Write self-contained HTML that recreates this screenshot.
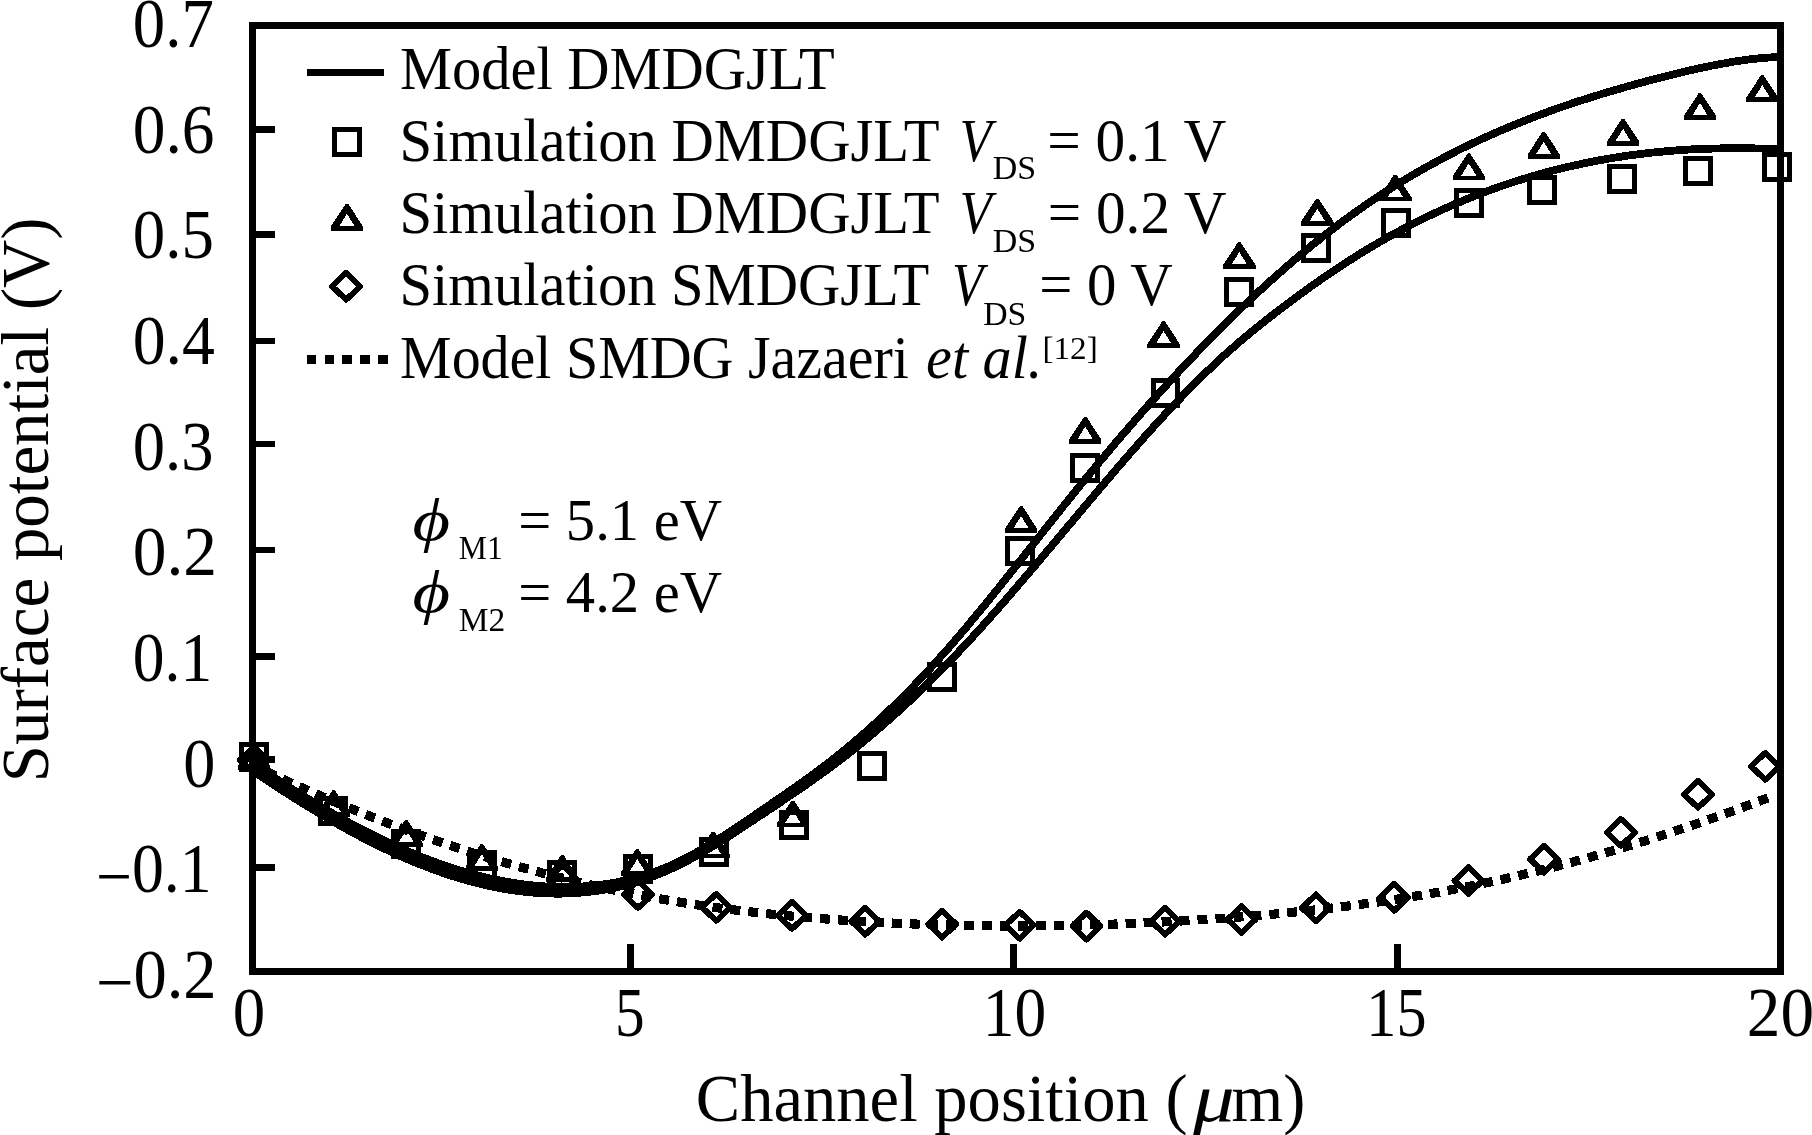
<!DOCTYPE html>
<html lang="en">
<head>
<meta charset="utf-8">
<title>Surface potential vs channel position</title>
<style>
html,body{margin:0;padding:0;background:#fff;}
body{width:1812px;height:1135px;overflow:hidden;}
svg{display:block;filter:grayscale(1);}
text{font-family:"Liberation Serif", "DejaVu Serif", serif;fill:#000;}
</style>
</head>
<body>
<svg width="1812" height="1135" viewBox="0 0 1812 1135">
<rect x="0" y="0" width="1812" height="1135" fill="#fff"/>
<g shape-rendering="crispEdges">
<rect x="252.6" y="25.5" width="1527.8" height="945.9" fill="none" stroke="#000" stroke-width="6.8"/>
<line x1="252.6" y1="129.6" x2="274.9" y2="129.6" stroke="#000" stroke-width="6.8"/>
<line x1="252.6" y1="234.3" x2="274.9" y2="234.3" stroke="#000" stroke-width="6.8"/>
<line x1="252.6" y1="341.0" x2="274.9" y2="341.0" stroke="#000" stroke-width="6.8"/>
<line x1="252.6" y1="444.0" x2="274.9" y2="444.0" stroke="#000" stroke-width="6.8"/>
<line x1="252.6" y1="550.0" x2="274.9" y2="550.0" stroke="#000" stroke-width="6.8"/>
<line x1="252.6" y1="656.1" x2="274.9" y2="656.1" stroke="#000" stroke-width="6.8"/>
<line x1="252.6" y1="759.8" x2="274.9" y2="759.8" stroke="#000" stroke-width="6.8"/>
<line x1="252.6" y1="867.2" x2="274.9" y2="867.2" stroke="#000" stroke-width="6.8"/>
<line x1="630.5" y1="944.0" x2="630.5" y2="971.4" stroke="#000" stroke-width="6.9"/>
<line x1="1013.4" y1="944.0" x2="1013.4" y2="971.4" stroke="#000" stroke-width="6.9"/>
<line x1="1397.5" y1="944.0" x2="1397.5" y2="971.4" stroke="#000" stroke-width="6.9"/>
<path d="M252.5 763.0 L256.3 765.6 L260.1 768.2 L264.0 770.7 L267.8 773.3 L271.6 775.8 L275.4 778.3 L279.3 780.8 L283.1 783.3 L286.9 785.7 L290.7 788.2 L294.5 790.6 L298.4 793.0 L302.2 795.3 L306.0 797.7 L309.8 800.0 L313.6 802.3 L317.5 804.6 L321.3 806.9 L325.1 809.1 L328.9 811.3 L332.8 813.5 L336.6 815.7 L340.4 817.9 L344.2 820.0 L348.0 822.1 L351.9 824.1 L355.7 826.2 L359.5 828.2 L363.3 830.2 L367.2 832.2 L371.0 834.1 L374.8 836.0 L378.6 837.9 L382.4 839.7 L386.3 841.6 L390.1 843.4 L393.9 845.1 L397.7 846.8 L401.6 848.6 L405.4 850.2 L409.2 851.9 L413.0 853.5 L416.8 855.0 L420.7 856.6 L424.5 858.1 L428.3 859.6 L432.1 861.0 L435.9 862.4 L439.8 863.8 L443.6 865.1 L447.4 866.4 L451.2 867.7 L455.1 868.9 L458.9 870.1 L462.7 871.3 L466.5 872.4 L470.3 873.5 L474.2 874.5 L478.0 875.5 L481.8 876.5 L485.6 877.4 L489.5 878.3 L493.3 879.1 L497.1 879.9 L500.9 880.7 L504.7 881.4 L508.6 882.1 L512.4 882.8 L516.2 883.4 L520.0 883.9 L523.8 884.4 L527.7 884.9 L531.5 885.3 L535.3 885.7 L539.1 886.0 L543.0 886.3 L546.8 886.5 L550.6 886.7 L554.4 886.9 L558.2 887.0 L562.1 887.0 L565.9 887.0 L569.7 887.0 L573.5 886.9 L577.4 886.8 L581.2 886.6 L585.0 886.3 L588.8 886.1 L592.6 885.7 L596.5 885.3 L600.3 884.9 L604.1 884.3 L607.9 883.8 L611.7 883.2 L615.6 882.5 L619.4 881.7 L623.2 880.9 L627.0 880.1 L630.9 879.1 L634.7 878.1 L638.5 877.1 L642.3 876.0 L646.1 874.8 L650.0 873.5 L653.8 872.2 L657.6 870.8 L661.4 869.3 L665.3 867.7 L669.1 866.1 L672.9 864.4 L676.7 862.6 L680.5 860.8 L684.4 858.8 L688.2 856.8 L692.0 854.8 L695.8 852.7 L699.7 850.5 L703.5 848.3 L707.3 846.0 L711.1 843.7 L714.9 841.3 L718.8 838.9 L722.6 836.5 L726.4 834.0 L730.2 831.5 L734.0 829.0 L737.9 826.4 L741.7 823.9 L745.5 821.3 L749.3 818.7 L753.2 816.1 L757.0 813.5 L760.8 810.9 L764.6 808.3 L768.4 805.7 L772.3 803.0 L776.1 800.4 L779.9 797.8 L783.7 795.2 L787.6 792.5 L791.4 789.8 L795.2 787.2 L799.0 784.5 L802.8 781.7 L806.7 779.0 L810.5 776.2 L814.3 773.4 L818.1 770.6 L821.9 767.7 L825.8 764.8 L829.6 761.9 L833.4 758.9 L837.2 755.9 L841.1 752.8 L844.9 749.7 L848.7 746.5 L852.5 743.3 L856.3 740.1 L860.2 736.8 L864.0 733.4 L867.8 730.1 L871.6 726.6 L875.5 723.2 L879.3 719.6 L883.1 716.1 L886.9 712.5 L890.7 708.8 L894.6 705.1 L898.4 701.3 L902.2 697.6 L906.0 693.7 L909.9 689.8 L913.7 685.9 L917.5 681.9 L921.3 677.9 L925.1 673.8 L929.0 669.7 L932.8 665.6 L936.6 661.4 L940.4 657.1 L944.2 652.8 L948.1 648.5 L951.9 644.1 L955.7 639.7 L959.5 635.2 L963.4 630.7 L967.2 626.2 L971.0 621.6 L974.8 617.0 L978.6 612.4 L982.5 607.8 L986.3 603.1 L990.1 598.4 L993.9 593.6 L997.8 588.9 L1001.6 584.1 L1005.4 579.3 L1009.2 574.5 L1013.0 569.7 L1016.9 564.9 L1020.7 560.1 L1024.5 555.3 L1028.3 550.4 L1032.1 545.6 L1036.0 540.7 L1039.8 535.9 L1043.6 531.1 L1047.4 526.2 L1051.3 521.4 L1055.1 516.6 L1058.9 511.8 L1062.7 507.0 L1066.5 502.3 L1070.4 497.5 L1074.2 492.8 L1078.0 488.1 L1081.8 483.4 L1085.7 478.7 L1089.5 474.1 L1093.3 469.5 L1097.1 464.9 L1100.9 460.3 L1104.8 455.7 L1108.6 451.2 L1112.4 446.6 L1116.2 442.1 L1120.0 437.7 L1123.9 433.2 L1127.7 428.8 L1131.5 424.3 L1135.3 420.0 L1139.2 415.6 L1143.0 411.2 L1146.8 406.9 L1150.6 402.6 L1154.4 398.4 L1158.3 394.1 L1162.1 389.9 L1165.9 385.7 L1169.7 381.5 L1173.6 377.4 L1177.4 373.2 L1181.2 369.1 L1185.0 365.0 L1188.8 361.0 L1192.7 357.0 L1196.5 353.0 L1200.3 349.0 L1204.1 345.1 L1208.0 341.1 L1211.8 337.2 L1215.6 333.4 L1219.4 329.5 L1223.2 325.7 L1227.1 321.9 L1230.9 318.2 L1234.7 314.4 L1238.5 310.7 L1242.3 307.1 L1246.2 303.4 L1250.0 299.8 L1253.8 296.2 L1257.6 292.7 L1261.5 289.1 L1265.3 285.6 L1269.1 282.2 L1272.9 278.7 L1276.7 275.3 L1280.6 272.0 L1284.4 268.6 L1288.2 265.3 L1292.0 262.0 L1295.9 258.7 L1299.7 255.5 L1303.5 252.3 L1307.3 249.2 L1311.1 246.0 L1315.0 242.9 L1318.8 239.9 L1322.6 236.8 L1326.4 233.9 L1330.2 230.9 L1334.1 228.0 L1337.9 225.1 L1341.7 222.2 L1345.5 219.4 L1349.4 216.6 L1353.2 213.8 L1357.0 211.1 L1360.8 208.4 L1364.6 205.7 L1368.5 203.1 L1372.3 200.5 L1376.1 197.9 L1379.9 195.4 L1383.8 192.9 L1387.6 190.4 L1391.4 188.0 L1395.2 185.6 L1399.0 183.2 L1402.9 180.9 L1406.7 178.6 L1410.5 176.3 L1414.3 174.1 L1418.2 171.8 L1422.0 169.7 L1425.8 167.5 L1429.6 165.4 L1433.4 163.3 L1437.3 161.2 L1441.1 159.1 L1444.9 157.1 L1448.7 155.1 L1452.5 153.2 L1456.4 151.2 L1460.2 149.3 L1464.0 147.4 L1467.8 145.6 L1471.7 143.7 L1475.5 141.9 L1479.3 140.1 L1483.1 138.4 L1486.9 136.6 L1490.8 134.9 L1494.6 133.2 L1498.4 131.5 L1502.2 129.9 L1506.1 128.3 L1509.9 126.7 L1513.7 125.1 L1517.5 123.5 L1521.3 122.0 L1525.2 120.5 L1529.0 119.0 L1532.8 117.5 L1536.6 116.0 L1540.4 114.6 L1544.3 113.2 L1548.1 111.8 L1551.9 110.4 L1555.7 109.0 L1559.6 107.7 L1563.4 106.4 L1567.2 105.1 L1571.0 103.8 L1574.8 102.5 L1578.7 101.2 L1582.5 100.0 L1586.3 98.8 L1590.1 97.6 L1594.0 96.4 L1597.8 95.2 L1601.6 94.0 L1605.4 92.9 L1609.2 91.7 L1613.1 90.6 L1616.9 89.5 L1620.7 88.4 L1624.5 87.3 L1628.3 86.2 L1632.2 85.2 L1636.0 84.1 L1639.8 83.1 L1643.6 82.0 L1647.5 81.0 L1651.3 80.0 L1655.1 79.0 L1658.9 78.0 L1662.7 77.0 L1666.6 76.1 L1670.4 75.1 L1674.2 74.2 L1678.0 73.2 L1681.9 72.3 L1685.7 71.4 L1689.5 70.5 L1693.3 69.6 L1697.1 68.8 L1701.0 67.9 L1704.8 67.1 L1708.6 66.3 L1712.4 65.5 L1716.3 64.8 L1720.1 64.1 L1723.9 63.4 L1727.7 62.7 L1731.5 62.0 L1735.4 61.4 L1739.2 60.9 L1743.0 60.3 L1746.8 59.8 L1750.6 59.3 L1754.5 58.9 L1758.3 58.4 L1762.1 58.1 L1765.9 57.7 L1769.8 57.5 L1773.6 57.2 L1777.4 57.0" fill="none" stroke="#000" stroke-width="7.8" stroke-linejoin="round"/>
<path d="M252.5 770.5 L256.3 773.1 L260.1 775.7 L264.0 778.3 L267.8 780.8 L271.6 783.4 L275.4 785.9 L279.3 788.4 L283.1 790.9 L286.9 793.3 L290.7 795.8 L294.5 798.2 L298.4 800.6 L302.2 803.0 L306.0 805.4 L309.8 807.7 L313.6 810.0 L317.5 812.3 L321.3 814.6 L325.1 816.9 L328.9 819.1 L332.8 821.3 L336.6 823.5 L340.4 825.7 L344.2 827.8 L348.0 829.9 L351.9 832.0 L355.7 834.1 L359.5 836.1 L363.3 838.1 L367.2 840.1 L371.0 842.0 L374.8 844.0 L378.6 845.8 L382.4 847.7 L386.3 849.5 L390.1 851.3 L393.9 853.1 L397.7 854.9 L401.6 856.6 L405.4 858.2 L409.2 859.9 L413.0 861.5 L416.8 863.1 L420.7 864.6 L424.5 866.1 L428.3 867.6 L432.1 869.0 L435.9 870.4 L439.8 871.8 L443.6 873.1 L447.4 874.4 L451.2 875.7 L455.1 876.9 L458.9 878.1 L462.7 879.2 L466.5 880.3 L470.3 881.4 L474.2 882.4 L478.0 883.3 L481.8 884.3 L485.6 885.2 L489.5 886.0 L493.3 886.8 L497.1 887.6 L500.9 888.3 L504.7 889.0 L508.6 889.6 L512.4 890.2 L516.2 890.8 L520.0 891.3 L523.8 891.7 L527.7 892.1 L531.5 892.5 L535.3 892.8 L539.1 893.0 L543.0 893.3 L546.8 893.4 L550.6 893.5 L554.4 893.6 L558.2 893.6 L562.1 893.6 L565.9 893.5 L569.7 893.3 L573.5 893.2 L577.4 892.9 L581.2 892.6 L585.0 892.3 L588.8 891.9 L592.6 891.4 L596.5 890.9 L600.3 890.3 L604.1 889.7 L607.9 889.0 L611.7 888.2 L615.6 887.4 L619.4 886.6 L623.2 885.7 L627.0 884.7 L630.9 883.6 L634.7 882.5 L638.5 881.4 L642.3 880.1 L646.1 878.9 L650.0 877.5 L653.8 876.1 L657.6 874.6 L661.4 873.1 L665.3 871.4 L669.1 869.8 L672.9 868.0 L676.7 866.2 L680.5 864.3 L684.4 862.4 L688.2 860.4 L692.0 858.3 L695.8 856.2 L699.7 854.1 L703.5 851.9 L707.3 849.6 L711.1 847.4 L714.9 845.0 L718.8 842.7 L722.6 840.3 L726.4 837.9 L730.2 835.4 L734.0 832.9 L737.9 830.5 L741.7 828.0 L745.5 825.4 L749.3 822.9 L753.2 820.4 L757.0 817.8 L760.8 815.3 L764.6 812.8 L768.4 810.2 L772.3 807.7 L776.1 805.1 L779.9 802.6 L783.7 800.0 L787.6 797.4 L791.4 794.9 L795.2 792.3 L799.0 789.6 L802.8 787.0 L806.7 784.4 L810.5 781.7 L814.3 779.0 L818.1 776.3 L821.9 773.5 L825.8 770.7 L829.6 767.9 L833.4 765.1 L837.2 762.2 L841.1 759.3 L844.9 756.4 L848.7 753.4 L852.5 750.4 L856.3 747.3 L860.2 744.2 L864.0 741.1 L867.8 737.9 L871.6 734.7 L875.5 731.5 L879.3 728.2 L883.1 724.9 L886.9 721.6 L890.7 718.2 L894.6 714.7 L898.4 711.3 L902.2 707.8 L906.0 704.3 L909.9 700.7 L913.7 697.1 L917.5 693.5 L921.3 689.8 L925.1 686.1 L929.0 682.3 L932.8 678.5 L936.6 674.7 L940.4 670.9 L944.2 667.0 L948.1 663.0 L951.9 659.1 L955.7 655.1 L959.5 651.0 L963.4 647.0 L967.2 642.9 L971.0 638.7 L974.8 634.5 L978.6 630.3 L982.5 626.1 L986.3 621.8 L990.1 617.6 L993.9 613.2 L997.8 608.9 L1001.6 604.5 L1005.4 600.2 L1009.2 595.8 L1013.0 591.3 L1016.9 586.9 L1020.7 582.4 L1024.5 578.0 L1028.3 573.5 L1032.1 569.0 L1036.0 564.5 L1039.8 559.9 L1043.6 555.4 L1047.4 550.9 L1051.3 546.3 L1055.1 541.8 L1058.9 537.2 L1062.7 532.7 L1066.5 528.1 L1070.4 523.6 L1074.2 519.0 L1078.0 514.5 L1081.8 509.9 L1085.7 505.4 L1089.5 500.8 L1093.3 496.3 L1097.1 491.8 L1100.9 487.3 L1104.8 482.8 L1108.6 478.3 L1112.4 473.8 L1116.2 469.4 L1120.0 464.9 L1123.9 460.5 L1127.7 456.1 L1131.5 451.7 L1135.3 447.4 L1139.2 443.0 L1143.0 438.7 L1146.8 434.4 L1150.6 430.2 L1154.4 426.0 L1158.3 421.8 L1162.1 417.6 L1165.9 413.5 L1169.7 409.4 L1173.6 405.3 L1177.4 401.3 L1181.2 397.3 L1185.0 393.3 L1188.8 389.4 L1192.7 385.6 L1196.5 381.7 L1200.3 377.9 L1204.1 374.2 L1208.0 370.5 L1211.8 366.9 L1215.6 363.3 L1219.4 359.7 L1223.2 356.2 L1227.1 352.8 L1230.9 349.4 L1234.7 346.1 L1238.5 342.8 L1242.3 339.5 L1246.2 336.3 L1250.0 333.1 L1253.8 330.0 L1257.6 326.9 L1261.5 323.8 L1265.3 320.8 L1269.1 317.8 L1272.9 314.8 L1276.7 311.8 L1280.6 308.9 L1284.4 306.0 L1288.2 303.2 L1292.0 300.3 L1295.9 297.5 L1299.7 294.7 L1303.5 291.9 L1307.3 289.2 L1311.1 286.4 L1315.0 283.7 L1318.8 281.0 L1322.6 278.4 L1326.4 275.7 L1330.2 273.1 L1334.1 270.5 L1337.9 268.0 L1341.7 265.5 L1345.5 263.0 L1349.4 260.5 L1353.2 258.1 L1357.0 255.6 L1360.8 253.3 L1364.6 250.9 L1368.5 248.6 L1372.3 246.3 L1376.1 244.1 L1379.9 241.8 L1383.8 239.6 L1387.6 237.5 L1391.4 235.3 L1395.2 233.2 L1399.0 231.2 L1402.9 229.1 L1406.7 227.1 L1410.5 225.1 L1414.3 223.1 L1418.2 221.2 L1422.0 219.3 L1425.8 217.4 L1429.6 215.6 L1433.4 213.8 L1437.3 212.0 L1441.1 210.2 L1444.9 208.5 L1448.7 206.8 L1452.5 205.1 L1456.4 203.5 L1460.2 201.9 L1464.0 200.3 L1467.8 198.7 L1471.7 197.2 L1475.5 195.6 L1479.3 194.2 L1483.1 192.7 L1486.9 191.3 L1490.8 189.9 L1494.6 188.5 L1498.4 187.1 L1502.2 185.8 L1506.1 184.5 L1509.9 183.2 L1513.7 182.0 L1517.5 180.7 L1521.3 179.5 L1525.2 178.4 L1529.0 177.2 L1532.8 176.1 L1536.6 175.0 L1540.4 173.9 L1544.3 172.9 L1548.1 171.8 L1551.9 170.8 L1555.7 169.8 L1559.6 168.9 L1563.4 168.0 L1567.2 167.0 L1571.0 166.2 L1574.8 165.3 L1578.7 164.5 L1582.5 163.6 L1586.3 162.8 L1590.1 162.1 L1594.0 161.3 L1597.8 160.6 L1601.6 159.9 L1605.4 159.2 L1609.2 158.6 L1613.1 157.9 L1616.9 157.3 L1620.7 156.7 L1624.5 156.1 L1628.3 155.6 L1632.2 155.1 L1636.0 154.5 L1639.8 154.1 L1643.6 153.6 L1647.5 153.1 L1651.3 152.7 L1655.1 152.3 L1658.9 151.9 L1662.7 151.6 L1666.6 151.2 L1670.4 150.9 L1674.2 150.6 L1678.0 150.3 L1681.9 150.0 L1685.7 149.8 L1689.5 149.5 L1693.3 149.3 L1697.1 149.1 L1701.0 149.0 L1704.8 148.8 L1708.6 148.7 L1712.4 148.6 L1716.3 148.5 L1720.1 148.4 L1723.9 148.3 L1727.7 148.3 L1731.5 148.2 L1735.4 148.2 L1739.2 148.2 L1743.0 148.3 L1746.8 148.3 L1750.6 148.3 L1754.5 148.4 L1758.3 148.5 L1762.1 148.6 L1765.9 148.7 L1769.8 148.9 L1773.6 149.0 L1777.4 149.2" fill="none" stroke="#000" stroke-width="7.8" stroke-linejoin="round"/>
<path d="M1768.0 797.8 L1764.2 799.3 L1760.4 800.7 L1756.6 802.1 L1752.8 803.6 L1749.0 805.0 L1745.2 806.4 L1741.4 807.8 L1737.6 809.2 L1733.8 810.6 L1730.0 812.0 L1726.2 813.3 L1722.4 814.7 L1718.6 816.1 L1714.8 817.4 L1711.0 818.8 L1707.2 820.1 L1703.4 821.4 L1699.6 822.7 L1695.8 824.1 L1692.0 825.4 L1688.2 826.7 L1684.4 827.9 L1680.6 829.2 L1676.8 830.5 L1673.0 831.8 L1669.2 833.0 L1665.4 834.3 L1661.6 835.5 L1657.9 836.7 L1654.1 837.9 L1650.3 839.2 L1646.5 840.4 L1642.7 841.6 L1638.9 842.7 L1635.1 843.9 L1631.3 845.1 L1627.5 846.2 L1623.7 847.4 L1619.9 848.5 L1616.1 849.7 L1612.3 850.8 L1608.5 851.9 L1604.7 853.0 L1600.9 854.1 L1597.1 855.2 L1593.3 856.3 L1589.5 857.4 L1585.7 858.4 L1581.9 859.5 L1578.1 860.5 L1574.3 861.6 L1570.5 862.6 L1566.7 863.6 L1562.9 864.6 L1559.1 865.6 L1555.3 866.6 L1551.5 867.6 L1547.7 868.5 L1543.9 869.5 L1540.1 870.4 L1536.3 871.4 L1532.5 872.3 L1528.7 873.2 L1524.9 874.1 L1521.1 875.0 L1517.3 875.9 L1513.5 876.8 L1509.7 877.7 L1505.9 878.5 L1502.1 879.4 L1498.3 880.2 L1494.5 881.1 L1490.7 881.9 L1486.9 882.7 L1483.1 883.5 L1479.3 884.3 L1475.5 885.1 L1471.7 885.8 L1467.9 886.6 L1464.1 887.4 L1460.3 888.1 L1456.5 888.8 L1452.7 889.6 L1448.9 890.3 L1445.1 891.0 L1441.4 891.7 L1437.6 892.4 L1433.8 893.0 L1430.0 893.7 L1426.2 894.4 L1422.4 895.0 L1418.6 895.6 L1414.8 896.3 L1411.0 896.9 L1407.2 897.5 L1403.4 898.1 L1399.6 898.7 L1395.8 899.3 L1392.0 899.9 L1388.2 900.5 L1384.4 901.0 L1380.6 901.6 L1376.8 902.1 L1373.0 902.7 L1369.2 903.2 L1365.4 903.7 L1361.6 904.2 L1357.8 904.7 L1354.0 905.2 L1350.2 905.7 L1346.4 906.2 L1342.6 906.7 L1338.8 907.2 L1335.0 907.6 L1331.2 908.1 L1327.4 908.5 L1323.6 909.0 L1319.8 909.4 L1316.0 909.8 L1312.2 910.2 L1308.4 910.7 L1304.6 911.1 L1300.8 911.5 L1297.0 911.8 L1293.2 912.2 L1289.4 912.6 L1285.6 913.0 L1281.8 913.4 L1278.0 913.7 L1274.2 914.1 L1270.4 914.4 L1266.6 914.8 L1262.8 915.1 L1259.0 915.4 L1255.2 915.7 L1251.4 916.1 L1247.6 916.4 L1243.8 916.7 L1240.0 917.0 L1236.2 917.3 L1232.4 917.6 L1228.6 917.8 L1224.9 918.1 L1221.1 918.4 L1217.3 918.7 L1213.5 918.9 L1209.7 919.2 L1205.9 919.4 L1202.1 919.7 L1198.3 919.9 L1194.5 920.2 L1190.7 920.4 L1186.9 920.6 L1183.1 920.8 L1179.3 921.1 L1175.5 921.3 L1171.7 921.5 L1167.9 921.7 L1164.1 921.9 L1160.3 922.1 L1156.5 922.3 L1152.7 922.5 L1148.9 922.6 L1145.1 922.8 L1141.3 923.0 L1137.5 923.2 L1133.7 923.3 L1129.9 923.5 L1126.1 923.6 L1122.3 923.8 L1118.5 923.9 L1114.7 924.1 L1110.9 924.2 L1107.1 924.3 L1103.3 924.5 L1099.5 924.6 L1095.7 924.7 L1091.9 924.8 L1088.1 924.9 L1084.3 925.0 L1080.5 925.1 L1076.7 925.2 L1072.9 925.3 L1069.1 925.4 L1065.3 925.4 L1061.5 925.5 L1057.7 925.6 L1053.9 925.6 L1050.1 925.7 L1046.3 925.7 L1042.5 925.8 L1038.7 925.8 L1034.9 925.8 L1031.1 925.9 L1027.3 925.9 L1023.5 925.9 L1019.7 925.9 L1015.9 925.9 L1012.1 925.9 L1008.4 925.9 L1004.6 925.9 L1000.8 925.9 L997.0 925.9 L993.2 925.8 L989.4 925.8 L985.6 925.8 L981.8 925.7 L978.0 925.7 L974.2 925.6 L970.4 925.6 L966.6 925.5 L962.8 925.4 L959.0 925.4 L955.2 925.3 L951.4 925.2 L947.6 925.1 L943.8 925.0 L940.0 924.9 L936.2 924.8 L932.4 924.7 L928.6 924.5 L924.8 924.4 L921.0 924.3 L917.2 924.1 L913.4 924.0 L909.6 923.8 L905.8 923.7 L902.0 923.5 L898.2 923.4 L894.4 923.2 L890.6 923.0 L886.8 922.8 L883.0 922.6 L879.2 922.4 L875.4 922.2 L871.6 922.0 L867.8 921.8 L864.0 921.6 L860.2 921.3 L856.4 921.1 L852.6 920.9 L848.8 920.6 L845.0 920.4 L841.2 920.1 L837.4 919.8 L833.6 919.6 L829.8 919.3 L826.0 919.0 L822.2 918.7 L818.4 918.4 L814.6 918.1 L810.8 917.8 L807.0 917.5 L803.2 917.2 L799.4 916.8 L795.6 916.5 L791.9 916.1 L788.1 915.8 L784.3 915.4 L780.5 915.1 L776.7 914.7 L772.9 914.3 L769.1 913.9 L765.3 913.5 L761.5 913.1 L757.7 912.7 L753.9 912.3 L750.1 911.8 L746.3 911.4 L742.5 911.0 L738.7 910.5 L734.9 910.0 L731.1 909.6 L727.3 909.1 L723.5 908.6 L719.7 908.1 L715.9 907.6 L712.1 907.0 L708.3 906.5 L704.5 906.0 L700.7 905.4 L696.9 904.9 L693.1 904.3 L689.3 903.7 L685.5 903.1 L681.7 902.5 L677.9 901.9 L674.1 901.3 L670.3 900.6 L666.5 900.0 L662.7 899.3 L658.9 898.7 L655.1 898.0 L651.3 897.3 L647.5 896.6 L643.7 895.9 L639.9 895.2 L636.1 894.5 L632.3 893.7 L628.5 893.0 L624.7 892.2 L620.9 891.4 L617.1 890.7 L613.3 889.9 L609.5 889.1 L605.7 888.2 L601.9 887.4 L598.1 886.6 L594.3 885.7 L590.5 884.9 L586.7 884.0 L582.9 883.1 L579.1 882.2 L575.4 881.3 L571.6 880.4 L567.8 879.5 L564.0 878.6 L560.2 877.6 L556.4 876.6 L552.6 875.7 L548.8 874.7 L545.0 873.7 L541.2 872.7 L537.4 871.7 L533.6 870.7 L529.8 869.6 L526.0 868.6 L522.2 867.5 L518.4 866.5 L514.6 865.4 L510.8 864.3 L507.0 863.2 L503.2 862.1 L499.4 861.0 L495.6 859.8 L491.8 858.7 L488.0 857.5 L484.2 856.4 L480.4 855.2 L476.6 854.0 L472.8 852.8 L469.0 851.6 L465.2 850.4 L461.4 849.1 L457.6 847.9 L453.8 846.6 L450.0 845.4 L446.2 844.1 L442.4 842.8 L438.6 841.5 L434.8 840.2 L431.0 838.9 L427.2 837.6 L423.4 836.2 L419.6 834.9 L415.8 833.5 L412.0 832.1 L408.2 830.7 L404.4 829.4 L400.6 827.9 L396.8 826.5 L393.0 825.1 L389.2 823.7 L385.4 822.2 L381.6 820.8 L377.8 819.3 L374.0 817.8 L370.2 816.3 L366.4 814.8 L362.6 813.3 L358.9 811.8 L355.1 810.3 L351.3 808.7 L347.5 807.2 L343.7 805.6 L339.9 804.0 L336.1 802.5 L332.3 800.9 L328.5 799.3 L324.7 797.7 L320.9 796.0 L317.1 794.4 L313.3 792.7 L309.5 791.1 L305.7 789.4 L301.9 787.7 L298.1 786.1 L294.3 784.4 L290.5 782.7 L286.7 780.9 L282.9 779.2 L279.1 777.5 L275.3 775.7 L271.5 774.0 L267.7 772.2 L263.9 770.4 L260.1 768.6 L256.3 766.8 L252.5 765.0" fill="none" stroke="#000" stroke-width="9.2" stroke-dasharray="10 8" stroke-linejoin="round"/>
<rect x="241.7" y="744.5" width="24.9" height="24.9" fill="none" stroke="#000" stroke-width="5.0"/>
<rect x="320.8" y="798.3" width="24.9" height="24.9" fill="none" stroke="#000" stroke-width="5.0"/>
<rect x="393.7" y="831.2" width="24.9" height="24.9" fill="none" stroke="#000" stroke-width="5.0"/>
<rect x="469.4" y="852.9" width="24.9" height="24.9" fill="none" stroke="#000" stroke-width="5.0"/>
<rect x="549.6" y="862.5" width="24.9" height="24.9" fill="none" stroke="#000" stroke-width="5.0"/>
<rect x="625.4" y="856.3" width="24.9" height="24.9" fill="none" stroke="#000" stroke-width="5.0"/>
<rect x="701.6" y="839.4" width="24.9" height="24.9" fill="none" stroke="#000" stroke-width="5.0"/>
<rect x="781.4" y="812.5" width="24.9" height="24.9" fill="none" stroke="#000" stroke-width="5.0"/>
<rect x="859.6" y="753.3" width="24.9" height="24.9" fill="none" stroke="#000" stroke-width="5.0"/>
<rect x="929.1" y="664.1" width="24.9" height="24.9" fill="none" stroke="#000" stroke-width="5.0"/>
<rect x="1007.6" y="538.3" width="24.9" height="24.9" fill="none" stroke="#000" stroke-width="5.0"/>
<rect x="1072.8" y="455.4" width="24.9" height="24.9" fill="none" stroke="#000" stroke-width="5.0"/>
<rect x="1153.0" y="380.9" width="24.9" height="24.9" fill="none" stroke="#000" stroke-width="5.0"/>
<rect x="1226.6" y="279.4" width="24.9" height="24.9" fill="none" stroke="#000" stroke-width="5.0"/>
<rect x="1303.5" y="235.2" width="24.9" height="24.9" fill="none" stroke="#000" stroke-width="5.0"/>
<rect x="1383.6" y="210.5" width="24.9" height="24.9" fill="none" stroke="#000" stroke-width="5.0"/>
<rect x="1456.3" y="190.4" width="24.9" height="24.9" fill="none" stroke="#000" stroke-width="5.0"/>
<rect x="1529.6" y="177.7" width="24.9" height="24.9" fill="none" stroke="#000" stroke-width="5.0"/>
<rect x="1609.6" y="166.5" width="24.9" height="24.9" fill="none" stroke="#000" stroke-width="5.0"/>
<rect x="1685.5" y="158.6" width="24.9" height="24.9" fill="none" stroke="#000" stroke-width="5.0"/>
<rect x="1764.5" y="154.7" width="24.9" height="24.9" fill="none" stroke="#000" stroke-width="5.0"/>
<path d="M237.80 769.95 L237.80 765.90 L252.80 743.05 L255.20 743.05 L270.20 765.90 L270.20 769.95 Z M254.00 753.00 L261.50 765.20 L246.50 765.20 Z" fill="#000" fill-rule="evenodd" stroke="none"/>
<path d="M317.40 817.15 L317.40 813.10 L332.40 790.25 L334.80 790.25 L349.80 813.10 L349.80 817.15 Z M333.60 800.20 L341.10 812.40 L326.10 812.40 Z" fill="#000" fill-rule="evenodd" stroke="none"/>
<path d="M390.10 846.95 L390.10 842.90 L405.10 820.05 L407.50 820.05 L422.50 842.90 L422.50 846.95 Z M406.30 830.00 L413.80 842.20 L398.80 842.20 Z" fill="#000" fill-rule="evenodd" stroke="none"/>
<path d="M465.60 870.95 L465.60 866.90 L480.60 844.05 L483.00 844.05 L498.00 866.90 L498.00 870.95 Z M481.80 854.00 L489.30 866.20 L474.30 866.20 Z" fill="#000" fill-rule="evenodd" stroke="none"/>
<path d="M546.10 881.85 L546.10 877.80 L561.10 854.95 L563.50 854.95 L578.50 877.80 L578.50 881.85 Z M562.30 864.90 L569.80 877.10 L554.80 877.10 Z" fill="#000" fill-rule="evenodd" stroke="none"/>
<path d="M621.10 875.95 L621.10 871.90 L636.10 849.05 L638.50 849.05 L653.50 871.90 L653.50 875.95 Z M637.30 859.00 L644.80 871.20 L629.80 871.20 Z" fill="#000" fill-rule="evenodd" stroke="none"/>
<path d="M697.10 858.45 L697.10 854.40 L712.10 831.55 L714.50 831.55 L729.50 854.40 L729.50 858.45 Z M713.30 841.50 L720.80 853.70 L705.80 853.70 Z" fill="#000" fill-rule="evenodd" stroke="none"/>
<path d="M776.70 827.45 L776.70 823.40 L791.70 800.55 L794.10 800.55 L809.10 823.40 L809.10 827.45 Z M792.90 810.50 L800.40 822.70 L785.40 822.70 Z" fill="#000" fill-rule="evenodd" stroke="none"/>
<path d="M1004.90 532.95 L1004.90 528.90 L1019.90 506.05 L1022.30 506.05 L1037.30 528.90 L1037.30 532.95 Z M1021.10 516.00 L1028.60 528.20 L1013.60 528.20 Z" fill="#000" fill-rule="evenodd" stroke="none"/>
<path d="M1069.00 443.65 L1069.00 439.60 L1084.00 416.75 L1086.40 416.75 L1101.40 439.60 L1101.40 443.65 Z M1085.20 426.70 L1092.70 438.90 L1077.70 438.90 Z" fill="#000" fill-rule="evenodd" stroke="none"/>
<path d="M1147.40 348.05 L1147.40 344.00 L1162.40 321.15 L1164.80 321.15 L1179.80 344.00 L1179.80 348.05 Z M1163.60 331.10 L1171.10 343.30 L1156.10 343.30 Z" fill="#000" fill-rule="evenodd" stroke="none"/>
<path d="M1223.10 268.95 L1223.10 264.90 L1238.10 242.05 L1240.50 242.05 L1255.50 264.90 L1255.50 268.95 Z M1239.30 252.00 L1246.80 264.20 L1231.80 264.20 Z" fill="#000" fill-rule="evenodd" stroke="none"/>
<path d="M1301.10 225.55 L1301.10 221.50 L1316.10 198.65 L1318.50 198.65 L1333.50 221.50 L1333.50 225.55 Z M1317.30 208.60 L1324.80 220.80 L1309.80 220.80 Z" fill="#000" fill-rule="evenodd" stroke="none"/>
<path d="M1379.10 201.45 L1379.10 197.40 L1394.10 174.55 L1396.50 174.55 L1411.50 197.40 L1411.50 201.45 Z M1395.30 184.50 L1402.80 196.70 L1387.80 196.70 Z" fill="#000" fill-rule="evenodd" stroke="none"/>
<path d="M1452.60 180.35 L1452.60 176.30 L1467.60 153.45 L1470.00 153.45 L1485.00 176.30 L1485.00 180.35 Z M1468.80 163.40 L1476.30 175.60 L1461.30 175.60 Z" fill="#000" fill-rule="evenodd" stroke="none"/>
<path d="M1527.50 158.75 L1527.50 154.70 L1542.50 131.85 L1544.90 131.85 L1559.90 154.70 L1559.90 158.75 Z M1543.70 141.80 L1551.20 154.00 L1536.20 154.00 Z" fill="#000" fill-rule="evenodd" stroke="none"/>
<path d="M1606.90 145.65 L1606.90 141.60 L1621.90 118.75 L1624.30 118.75 L1639.30 141.60 L1639.30 145.65 Z M1623.10 128.70 L1630.60 140.90 L1615.60 140.90 Z" fill="#000" fill-rule="evenodd" stroke="none"/>
<path d="M1683.80 119.95 L1683.80 115.90 L1698.80 93.05 L1701.20 93.05 L1716.20 115.90 L1716.20 119.95 Z M1700.00 103.00 L1707.50 115.20 L1692.50 115.20 Z" fill="#000" fill-rule="evenodd" stroke="none"/>
<path d="M1746.10 101.95 L1746.10 97.90 L1761.10 75.05 L1763.50 75.05 L1778.50 97.90 L1778.50 101.95 Z M1762.30 85.00 L1769.80 97.20 L1754.80 97.20 Z" fill="#000" fill-rule="evenodd" stroke="none"/>
<path d="M254.0 746.5 L268.1 760.0 L254.0 773.5 L239.9 760.0 Z" fill="none" stroke="#000" stroke-width="5.8" stroke-linejoin="round"/>
<path d="M562.5 865.5 L576.5 879.0 L562.5 892.5 L548.5 879.0 Z" fill="none" stroke="#000" stroke-width="5.8" stroke-linejoin="round"/>
<path d="M638.0 881.0 L652.0 894.5 L638.0 908.0 L624.0 894.5 Z" fill="none" stroke="#000" stroke-width="5.8" stroke-linejoin="round"/>
<path d="M716.2 893.9 L730.2 907.4 L716.2 920.9 L702.2 907.4 Z" fill="none" stroke="#000" stroke-width="5.8" stroke-linejoin="round"/>
<path d="M792.0 901.9 L806.0 915.4 L792.0 928.9 L778.0 915.4 Z" fill="none" stroke="#000" stroke-width="5.8" stroke-linejoin="round"/>
<path d="M865.2 907.7 L879.2 921.2 L865.2 934.7 L851.2 921.2 Z" fill="none" stroke="#000" stroke-width="5.8" stroke-linejoin="round"/>
<path d="M942.1 910.6 L956.1 924.1 L942.1 937.6 L928.1 924.1 Z" fill="none" stroke="#000" stroke-width="5.8" stroke-linejoin="round"/>
<path d="M1019.6 911.7 L1033.7 925.2 L1019.6 938.7 L1005.6 925.2 Z" fill="none" stroke="#000" stroke-width="5.8" stroke-linejoin="round"/>
<path d="M1086.5 912.6 L1100.5 926.1 L1086.5 939.6 L1072.5 926.1 Z" fill="none" stroke="#000" stroke-width="5.8" stroke-linejoin="round"/>
<path d="M1165.1 907.7 L1179.1 921.2 L1165.1 934.7 L1151.0 921.2 Z" fill="none" stroke="#000" stroke-width="5.8" stroke-linejoin="round"/>
<path d="M1241.5 906.0 L1255.5 919.5 L1241.5 933.0 L1227.5 919.5 Z" fill="none" stroke="#000" stroke-width="5.8" stroke-linejoin="round"/>
<path d="M1315.9 894.4 L1330.0 907.9 L1315.9 921.4 L1301.9 907.9 Z" fill="none" stroke="#000" stroke-width="5.8" stroke-linejoin="round"/>
<path d="M1394.2 883.8 L1408.2 897.3 L1394.2 910.8 L1380.2 897.3 Z" fill="none" stroke="#000" stroke-width="5.8" stroke-linejoin="round"/>
<path d="M1468.5 867.1 L1482.5 880.6 L1468.5 894.1 L1454.5 880.6 Z" fill="none" stroke="#000" stroke-width="5.8" stroke-linejoin="round"/>
<path d="M1544.0 845.6 L1558.0 859.1 L1544.0 872.6 L1530.0 859.1 Z" fill="none" stroke="#000" stroke-width="5.8" stroke-linejoin="round"/>
<path d="M1620.9 818.9 L1635.0 832.4 L1620.9 845.9 L1606.9 832.4 Z" fill="none" stroke="#000" stroke-width="5.8" stroke-linejoin="round"/>
<path d="M1698.0 780.8 L1712.1 794.3 L1698.0 807.8 L1684.0 794.3 Z" fill="none" stroke="#000" stroke-width="5.8" stroke-linejoin="round"/>
<path d="M1765.2 752.9 L1779.2 766.4 L1765.2 779.9 L1751.2 766.4 Z" fill="none" stroke="#000" stroke-width="5.8" stroke-linejoin="round"/>
<line x1="307.2" y1="72.5" x2="383.9" y2="72.5" stroke="#000" stroke-width="7.5"/>
<rect x="334.6" y="129.6" width="24.9" height="24.9" fill="none" stroke="#000" stroke-width="5.0"/>
<path d="M330.75 230.70 L330.75 226.65 L345.75 203.80 L348.15 203.80 L363.15 226.65 L363.15 230.70 Z M346.95 213.75 L354.45 225.95 L339.45 225.95 Z" fill="#000" fill-rule="evenodd" stroke="none"/>
<path d="M346.1 272.8 L360.2 286.3 L346.1 299.8 L332.1 286.3 Z" fill="none" stroke="#000" stroke-width="5.8" stroke-linejoin="round"/>
<line x1="306.6" y1="359.6" x2="387.8" y2="359.6" stroke="#000" stroke-width="9.2" stroke-dasharray="9.5 8.4"/>
</g>
<g>
<text x="132.77" y="47.00" font-size="70" textLength="81.04" lengthAdjust="spacingAndGlyphs">0.7</text>
<text x="132.76" y="152.67" font-size="70" textLength="81.66" lengthAdjust="spacingAndGlyphs">0.6</text>
<text x="132.77" y="258.34" font-size="70" textLength="81.05" lengthAdjust="spacingAndGlyphs">0.5</text>
<text x="132.75" y="364.01" font-size="70" textLength="82.18" lengthAdjust="spacingAndGlyphs">0.4</text>
<text x="132.78" y="469.68" font-size="70" textLength="80.74" lengthAdjust="spacingAndGlyphs">0.3</text>
<text x="132.69" y="575.35" font-size="70" textLength="84.37" lengthAdjust="spacingAndGlyphs">0.2</text>
<text x="132.82" y="681.02" font-size="70" textLength="79.36" lengthAdjust="spacingAndGlyphs">0.1</text>
<text x="183.19" y="786.69" font-size="70" textLength="32.11" lengthAdjust="spacingAndGlyphs">0</text>
<text x="96.01" y="892.36" font-size="70" textLength="115.68" lengthAdjust="spacingAndGlyphs"><tspan dy="7.5">−</tspan><tspan dy="-7.5">0.1</tspan></text>
<text x="95.88" y="998.03" font-size="70" textLength="120.74" lengthAdjust="spacingAndGlyphs"><tspan dy="7.5">−</tspan><tspan dy="-7.5">0.2</tspan></text>
<text x="232.77" y="1036.30" font-size="70" textLength="32.46" lengthAdjust="spacingAndGlyphs">0</text>
<text x="615.02" y="1036.30" font-size="70" textLength="29.63" lengthAdjust="spacingAndGlyphs">5</text>
<text x="982.84" y="1036.30" font-size="70" textLength="63.44" lengthAdjust="spacingAndGlyphs">10</text>
<text x="1366.30" y="1036.30" font-size="70" textLength="60.18" lengthAdjust="spacingAndGlyphs">15</text>
<text x="1746.80" y="1036.30" font-size="70" textLength="67.31" lengthAdjust="spacingAndGlyphs">20</text>
<text x="695.82" y="1120.60" font-size="68" textLength="491.85" lengthAdjust="spacingAndGlyphs">Channel position (</text>
<text x="1193.29" y="1120.60" font-size="68" textLength="41.45" lengthAdjust="spacingAndGlyphs" font-style="italic">μ</text>
<text x="1231.56" y="1120.60" font-size="68" textLength="73.95" lengthAdjust="spacingAndGlyphs">m)</text>
<text transform="translate(47.80 778.00) rotate(-90)" x="-4.18" y="0" font-size="68" textLength="564.80" lengthAdjust="spacingAndGlyphs">Surface potential (V)</text>
<text x="399.99" y="88.90" font-size="62" textLength="434.80" lengthAdjust="spacingAndGlyphs">Model DMDGJLT</text>
<text x="399.54" y="160.60" font-size="62" textLength="539.95" lengthAdjust="spacingAndGlyphs">Simulation DMDGJLT</text>
<text x="959.43" y="160.60" font-size="62" textLength="32.18" lengthAdjust="spacingAndGlyphs" font-style="italic">V</text>
<text x="992.77" y="178.90" font-size="33" textLength="43.44" lengthAdjust="spacingAndGlyphs">DS</text>
<text x="1047.13" y="160.60" font-size="62" textLength="179.27" lengthAdjust="spacingAndGlyphs">= 0.1 V</text>
<text x="399.54" y="232.70" font-size="62" textLength="539.95" lengthAdjust="spacingAndGlyphs">Simulation DMDGJLT</text>
<text x="959.43" y="232.70" font-size="62" textLength="32.18" lengthAdjust="spacingAndGlyphs" font-style="italic">V</text>
<text x="992.77" y="251.50" font-size="33" textLength="43.44" lengthAdjust="spacingAndGlyphs">DS</text>
<text x="1047.74" y="232.70" font-size="62" textLength="178.86" lengthAdjust="spacingAndGlyphs">= 0.2 V</text>
<text x="399.54" y="305.40" font-size="62" textLength="529.64" lengthAdjust="spacingAndGlyphs">Simulation SMDGJLT</text>
<text x="951.90" y="305.40" font-size="62" textLength="31.28" lengthAdjust="spacingAndGlyphs" font-style="italic">V</text>
<text x="983.27" y="324.50" font-size="33" textLength="43.12" lengthAdjust="spacingAndGlyphs">DS</text>
<text x="1039.16" y="305.40" font-size="62" textLength="133.54" lengthAdjust="spacingAndGlyphs">= 0 V</text>
<text x="400.09" y="378.00" font-size="62" textLength="508.81" lengthAdjust="spacingAndGlyphs">Model SMDG Jazaeri</text>
<text x="926.09" y="378.00" font-size="62" textLength="116.25" lengthAdjust="spacingAndGlyphs" font-style="italic">et al.</text>
<text x="1042.42" y="358.80" font-size="32" textLength="55.31" lengthAdjust="spacingAndGlyphs">[12]</text>
<text x="412.46" y="540.00" font-size="60" textLength="37.61" lengthAdjust="spacingAndGlyphs" font-style="italic">ϕ</text>
<text x="458.81" y="558.50" font-size="33" textLength="43.87" lengthAdjust="spacingAndGlyphs">M1</text>
<text x="518.15" y="540.00" font-size="60" textLength="203.95" lengthAdjust="spacingAndGlyphs">= 5.1 eV</text>
<text x="412.46" y="612.30" font-size="60" textLength="37.61" lengthAdjust="spacingAndGlyphs" font-style="italic">ϕ</text>
<text x="458.78" y="630.60" font-size="33" textLength="46.49" lengthAdjust="spacingAndGlyphs">M2</text>
<text x="518.15" y="612.30" font-size="60" textLength="203.95" lengthAdjust="spacingAndGlyphs">= 4.2 eV</text>
</g>
</svg>
</body>
</html>
